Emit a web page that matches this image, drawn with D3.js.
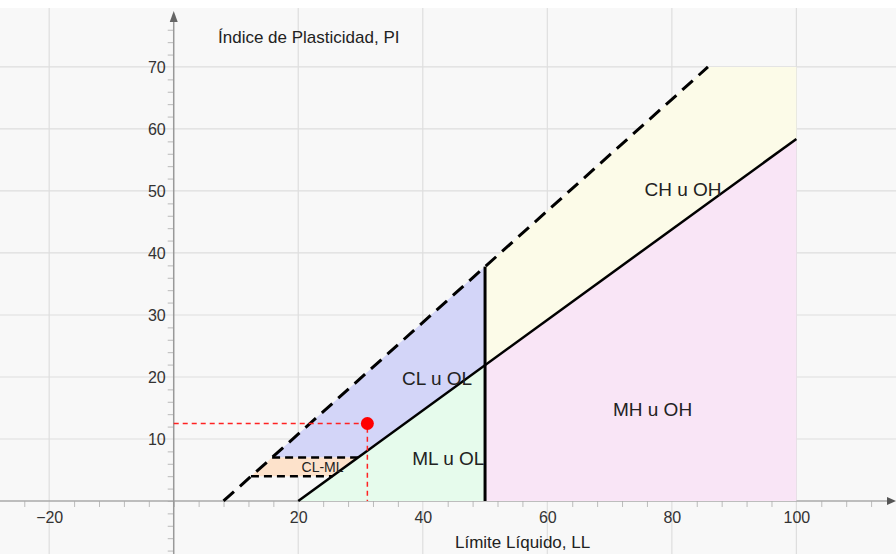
<!DOCTYPE html>
<html>
<head>
<meta charset="utf-8">
<script src="https://cdn.jsdelivr.net/npm/d3@7"></script>
<style>
  body { margin: 0; background: #fff; }
  svg { display: block; font-family: "Liberation Sans", Arial, sans-serif; }
</style>
</head>
<body>
<svg id="chart"></svg>
<script>
// tick labels
const xLabels = [-20, 20, 40, 60, 80, 100];
const yLabels = [10, 20, 30, 40, 50, 60, 70];

// Casagrande lines (LL, PI)
const aLine = [[20, 0], [100, 58.4]];
const uLine = [[8, 0], [85.8, 70]];
const llDivide = [[50, 0], [50, 37.8]];
const clml7 = [[15.8, 7], [29.6, 7]];
const clml4 = [[12.4, 4], [25.5, 4]];

// zones
const zones = [
  { name: "CL u OL", fill: "#d3d5f8", pts: [[15.8, 7], [29.6, 7], [50, 21.9], [50, 37.8]] },
  { name: "CL-ML", fill: "#fde2cb", pts: [[12.4, 4], [25.5, 4], [29.6, 7], [15.8, 7]] },
  { name: "ML u OL", fill: "#e6fbec", pts: [[20, 0], [50, 0], [50, 21.9]] },
  { name: "CH u OH", fill: "#fcfbe8", pts: [[50, 21.9], [100, 58.4], [100, 70], [85.8, 70], [50, 37.8]] },
  { name: "MH u OH", fill: "#f9e5f6", pts: [[50, 0], [100, 0], [100, 58.4], [50, 21.9]] }
];

const zoneLabels = [
  { text: "CL u OL", ll: 42.3, pi: 19.8, size: 19 },
  { text: "ML u OL", ll: 44.1, pi: 6.9, size: 19 },
  { text: "CH u OH", ll: 81.8, pi: 50.2, size: 19 },
  { text: "MH u OH", ll: 76.9, pi: 14.8, size: 19 },
  { text: "CL-ML", ll: 23.9, pi: 5.5, size: 14 }
];

// sample point
const sample = { ll: 31.1, pi: 12.5 };

const [w, h] = [896, 554];
const svg = d3.select("#chart").attr("width", w).attr("height", h);

const x = d3.scaleLinear().domain([-27.9, 116]).range([0, w]);
const y = d3.scaleLinear().domain([-8.55, 80.8]).range([h, 0]);
const fmt = d3.format("d");

svg.append("rect").attr("x", 0).attr("y", 8).attr("width", w).attr("height", h - 8).attr("fill", "#f8f8f8");

// grid
svg.append("g").selectAll("line").data(xLabels).enter().append("line")
  .attr("x1", d => x(d)).attr("x2", d => x(d)).attr("y1", 8).attr("y2", h)
  .attr("stroke", "#dedede").attr("stroke-width", 1.2);
svg.append("g").selectAll("line").data(yLabels).enter().append("line")
  .attr("y1", d => y(d)).attr("y2", d => y(d)).attr("x1", 0).attr("x2", w)
  .attr("stroke", "#dedede").attr("stroke-width", 1.2);

// axes
const xAxis = d3.axisBottom(x).tickValues(d3.range(-24, 116, 4)).tickSize(6)
  .tickFormat(d => xLabels.includes(d) ? fmt(d) : "");
const yAxis = d3.axisLeft(y).tickValues(d3.range(-8, 78, 2)).tickSize(6)
  .tickFormat(d => yLabels.includes(d) ? fmt(d) : "");

const gx = svg.append("g").attr("transform", `translate(0,${y(0)})`).call(xAxis);
const gy = svg.append("g").attr("transform", `translate(${x(0)},0)`).call(yAxis);
[gx, gy].forEach(g => {
  g.select(".domain").remove();
  g.selectAll(".tick line").attr("stroke", "#bbb");
  g.selectAll(".tick text").attr("fill", "#333").style("font-size", "16px")
    .style("font-family", "'Liberation Sans', Arial, sans-serif");
});
gx.selectAll(".tick text").attr("dy", "0.8em");
gy.selectAll(".tick text").attr("x", -8);
gx.selectAll(".tick").filter(d => xLabels.includes(d)).select("line").attr("y2", 0);
gy.selectAll(".tick").filter(d => yLabels.includes(d)).select("line").attr("x2", 0);

// axis lines with arrowheads
svg.append("line").attr("x1", 0).attr("x2", w - 6).attr("y1", y(0)).attr("y2", y(0))
  .attr("stroke", "#aaa").attr("stroke-width", 1.5);
svg.append("line").attr("x1", x(0)).attr("x2", x(0)).attr("y1", h).attr("y2", 18)
  .attr("stroke", "#999").attr("stroke-width", 1.5);
svg.append("path").attr("d", `M${x(0)},11 L${x(0) - 4},22 L${x(0) + 4},22 Z`).attr("fill", "#666");
svg.append("path").attr("d", `M${w},${y(0)} L${w - 9},${y(0) - 4} L${w - 9},${y(0) + 4} Z`).attr("fill", "#555");

// zones
const poly = d3.line().x(d => x(d[0])).y(d => y(d[1]));
svg.append("g").selectAll("path").data(zones).enter().append("path")
  .attr("d", d => poly(d.pts) + "Z").attr("fill", d => d.fill);

// lines
svg.append("path").attr("d", poly(aLine)).attr("stroke", "#000").attr("stroke-width", 2.5).attr("fill", "none");
svg.append("path").attr("d", poly(uLine)).attr("stroke", "#000").attr("stroke-width", 3)
  .attr("stroke-dasharray", "14,8").attr("fill", "none");
svg.append("path").attr("d", poly(llDivide)).attr("stroke", "#000").attr("stroke-width", 3).attr("fill", "none");
[clml7, clml4].forEach(seg => {
  svg.append("path").attr("d", poly(seg)).attr("stroke", "#000").attr("stroke-width", 2.5)
    .attr("stroke-dasharray", "8,5").attr("fill", "none");
});

// zone labels
svg.append("g").selectAll("text").data(zoneLabels).enter().append("text")
  .attr("x", d => x(d.ll)).attr("y", d => y(d.pi)).attr("dy", "0.35em")
  .attr("text-anchor", "middle").style("font-size", d => d.size + "px")
  .attr("fill", "#222").text(d => d.text);

// sample point with guides
svg.append("path").attr("d", poly([[0, sample.pi], [sample.ll, sample.pi], [sample.ll, 0]]))
  .attr("stroke", "#f22").attr("stroke-width", 1.5).attr("stroke-dasharray", "5,4").attr("fill", "none");
svg.append("circle").attr("cx", x(sample.ll)).attr("cy", y(sample.pi)).attr("r", 6.5).attr("fill", "#f00");

// axis titles
svg.append("text").attr("x", 218).attr("y", 43).style("font-size", "17px").attr("fill", "#222")
  .text("Índice de Plasticidad, PI");
svg.append("text").attr("x", 455).attr("y", 548).style("font-size", "17px").attr("fill", "#222")
  .text("Límite Líquido, LL");
</script>
</body>
</html>
